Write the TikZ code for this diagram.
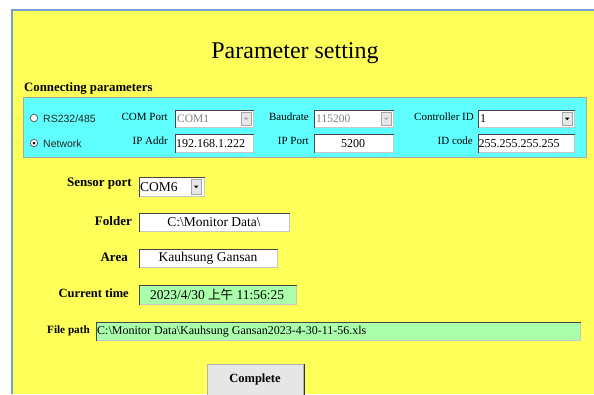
\documentclass[tikz,border=0pt]{standalone}
\usepackage{fontspec}
\setmainfont{Liberation Serif}[BoldFont={Liberation Serif Bold},ItalicFont={Liberation Serif Italic}]
\newfontfamily\uisans{Liberation Sans}
\newfontfamily\cjk{Noto Sans CJK TC}
\newfontfamily\lblfont{Liberation Serif Bold}
\definecolor{panelyellow}{RGB}{255,255,89}
\definecolor{panelcyan}{RGB}{96,255,255}
\definecolor{fieldgreen}{RGB}{170,255,170}
\definecolor{frameblue}{RGB}{122,156,211}
\definecolor{btngray}{RGB}{230,230,230}
\begin{document}
\begin{tikzpicture}[x=1pt,y=-1pt,
  box/.style={rectangle,draw=gray!45,line width=0.8pt,fill=white,inner sep=0pt,anchor=north west},
  greenbox/.style={box,fill=fieldgreen},
  dropbtn/.style={rectangle,draw=gray!70,fill=btngray,inner sep=0pt,anchor=north west,minimum width=10pt,minimum height=13pt},
  biglabel/.style={font=\lblfont\fontsize{12.5}{14}\selectfont,anchor=east,inner sep=0pt},
  smalllabel/.style={font=\fontsize{11}{13}\selectfont,anchor=east,inner sep=0pt},
  radiotxt/.style={font=\uisans\fontsize{10.5}{12}\selectfont,text=black!85,anchor=west,inner sep=0pt},
  fieldtxt/.style={font=\fontsize{12}{14}\selectfont,inner sep=0pt},
  bigfieldtxt/.style={font=\fontsize{13.5}{15}\selectfont,inner sep=0pt},
  radio/.style={circle,draw=gray!75!black,fill=white,inner sep=0pt,minimum size=7.5pt,line width=0.8pt}
]
\useasboundingbox (0,0) rectangle (594,394);
\fill[white] (0,0) rectangle (594,394);
% main yellow panel
\fill[panelyellow] (12,10) rectangle (594,394);
\draw[frameblue,line width=1.5pt] (12,394) -- (12,10) -- (594,10);

% title
\node[font=\fontsize{24}{28}\selectfont,anchor=base,inner sep=0pt] (title) at (295,58) {Parameter setting};

% connecting parameters
\node[font=\lblfont\fontsize{12.8}{14}\selectfont,anchor=base west,inner sep=0pt] (connlbl) at (24,91) {Connecting parameters};
\node[rectangle,draw=gray!70,line width=1pt,fill=panelcyan,anchor=north west,minimum width=563pt,minimum height=60pt,inner sep=0pt] (cyanbox) at (23,97) {};

% radios
\node[radio] (r1) at (34,118) {};
\node[radiotxt] (r1t) at (43,118.5) {RS232/485};
\node[radio] (r2) at (34,143) {};
\fill[black] (r2.center) circle (1.5pt);
\node[radiotxt] (r2t) at (43,143.5) {Network};

% COM port / IP addr
\node[smalllabel] (comlbl) at (168,117) {COM Port};
\node[box,minimum width=78pt,minimum height=17pt] (com1) at (175,110) {};
\node[dropbtn] (com1b) at (241,112) {};
\fill[gray!70] (com1b.center) ++(-2.2,-1) -- ++(4.4,0) -- ++(-2.2,2.4) -- cycle;
\node[fieldtxt,text=gray,anchor=west,font=\fontsize{11.5}{13}\selectfont] (com1t) at (177,119) {COM1};

\node[smalllabel] (iplbl) at (168,141) {IP Addr};
\node[box,minimum width=78pt,minimum height=18pt] (ipbox) at (175,134) {};
\node[fieldtxt,anchor=west] (ipt) at (176,143.5) {192.168.1.222};

% Baudrate / IP port
\node[smalllabel] (baudlbl) at (309,117) {Baudrate};
\node[box,minimum width=79pt,minimum height=17pt] (baud) at (314,110) {};
\node[dropbtn] (baudb) at (381,112) {};
\fill[gray!70] (baudb.center) ++(-2.2,-1) -- ++(4.4,0) -- ++(-2.2,2.4) -- cycle;
\node[fieldtxt,text=gray,anchor=west,font=\fontsize{11.5}{13}\selectfont] (baudt) at (316,119) {115200};

\node[smalllabel] (portlbl) at (309,141) {IP Port};
\node[box,minimum width=79pt,minimum height=18pt] (portbox) at (314,134) {};
\node[fieldtxt] (portt) at (353,143.5) {5200};

% Controller ID / ID code
\node[smalllabel] (ctllbl) at (474,117) {Controller ID};
\node[box,minimum width=96pt,minimum height=17pt] (ctl) at (478,110) {};
\node[dropbtn] (ctlb) at (562,112) {};
\fill[black] (ctlb.center) ++(-2.2,-1) -- ++(4.4,0) -- ++(-2.2,2.4) -- cycle;
\node[fieldtxt,anchor=west] (ctlt) at (480,119) {1};

\node[smalllabel] (idlbl) at (473,141) {ID code};
\node[box,minimum width=96pt,minimum height=18pt] (idbox) at (478,134) {};
\node[fieldtxt,anchor=west] (idt) at (478.5,143.5) {255.255.255.255};

% sensor port
\node[biglabel,font=\lblfont\fontsize{13}{15}\selectfont] (senslbl) at (132,184) {Sensor port};
\node[box,minimum width=65pt,minimum height=19pt] (sens) at (139,177) {};
\node[dropbtn,minimum height=15pt] (sensb) at (191,179) {};
\fill[black] (sensb.center) ++(-2.2,-1) -- ++(4.4,0) -- ++(-2.2,2.4) -- cycle;
\node[bigfieldtxt,anchor=west] (senst) at (140,187) {COM6};

% folder
\node[biglabel,font=\lblfont\fontsize{13}{15}\selectfont] (foldlbl) at (132,221) {Folder};
\node[box,minimum width=150pt,minimum height=18pt] (fold) at (139,213) {};
\node[bigfieldtxt] (foldt) at (214,222.5) {C:\textbackslash Monitor Data\textbackslash};

% area
\node[biglabel,font=\lblfont\fontsize{13}{15}\selectfont] (arealbl) at (128,257) {Area};
\node[box,minimum width=138pt,minimum height=18pt] (area) at (139,249) {};
\node[bigfieldtxt] (areat) at (208,258.5) {Kauhsung Gansan};

% current time
\node[biglabel] (timelbl) at (129,293) {Current time};
\node[greenbox,minimum width=157pt,minimum height=19pt] (timebox) at (139,285) {};
\node[bigfieldtxt] (timet) at (217,295) {2023/4/30 {\cjk\fontsize{12.5}{15}\selectfont 上午} 11:56:25};

% file path
\node[biglabel,font=\lblfont\fontsize{11.2}{13}\selectfont] (filelbl) at (90,331) {File path};
\node[greenbox,minimum width=484pt,minimum height=18pt] (filebox) at (96,322) {};
\node[fieldtxt,anchor=west] (filet) at (97,331.5) {C:\textbackslash Monitor Data\textbackslash Kauhsung Gansan2023-4-30-11-56.xls};

% sunken edges
\foreach \n in {com1,ipbox,baud,portbox,ctl,idbox,sens,fold,area,timebox,filebox}{
  \draw[gray!55!black,line width=1pt] (\n.south west) -- (\n.north west) -- (\n.north east);
}

% complete button
\node[rectangle,fill=btngray,draw=gray!60,line width=1pt,anchor=north west,minimum width=96pt,minimum height=40pt,inner sep=0pt] (btn) at (207,364) {};
\draw[gray!40!black,line width=1pt] (btn.north east) -- (btn.south east);
\node[font=\lblfont\fontsize{12.5}{14}\selectfont,inner sep=0pt] (btnt) at (255,379) {Complete};
\end{tikzpicture}
\end{document}
